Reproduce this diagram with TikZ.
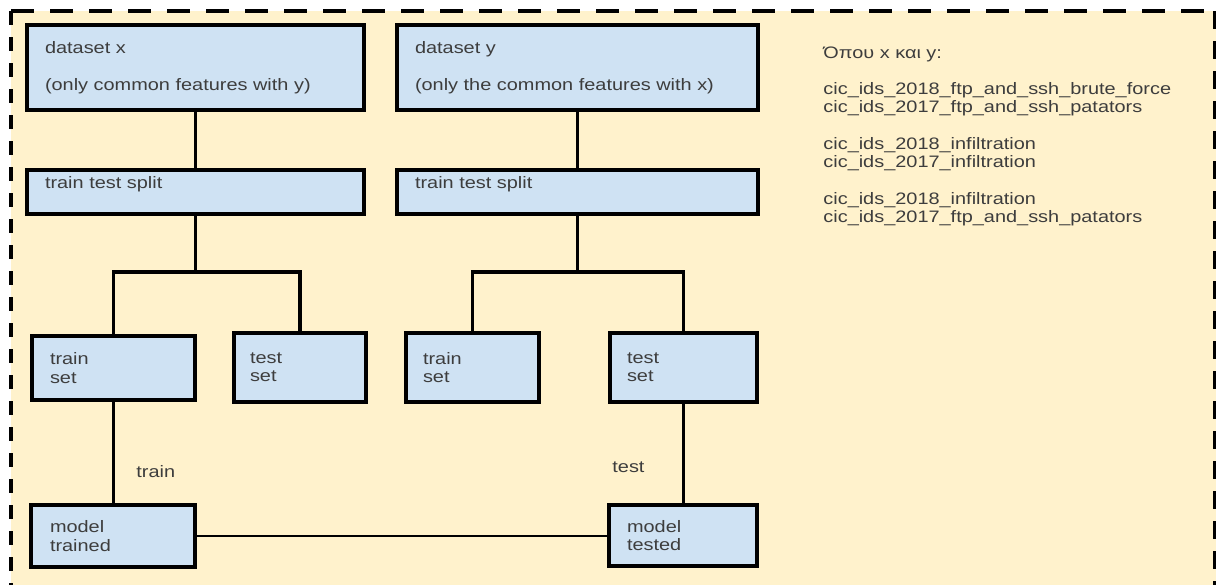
\documentclass[tikz,border=0pt]{standalone}
\usepackage{fontspec}
\setmainfont{Liberation Sans}[FakeStretch=1.2]
\definecolor{boxblue}{HTML}{CFE2F3}
\definecolor{paper}{HTML}{FFF2CC}
\definecolor{ink}{HTML}{3D3D3D}
\begin{document}
\begin{tikzpicture}[x=0.5pt, y=-0.5pt,
    every node/.style={font=\fontsize{8.3pt}{9.15pt}\selectfont, text=ink, inner sep=0pt},
    blk/.style={draw, fill=boxblue, line width=2pt, anchor=north west, align=left},
    wire/.style={line width=1.8pt}]
  \useasboundingbox (0,0) rectangle (1216,585);
  \fill[white] (0,0) rectangle (1216,585);
  \fill[paper] (11,11) rectangle (1216,585);
  % dashed frame (no bottom edge)
  \draw[line width=2pt, dash pattern=on 11.5pt off 8pt] (11,11) -- (1216,11);
  \draw[line width=2pt, dash pattern=on 7pt off 6pt] (11,11) -- (11,585);
  \draw[line width=2pt, dash pattern=on 9pt off 6pt] (1215,11) -- (1215,585);

  \node[blk, inner xsep=9pt, text width=150.5pt, minimum height=42.5pt] (dsx) at (25,23) {dataset x\\\mbox{}\\(only common features with y)};
  \node[blk, inner xsep=9pt, text width=162.5pt, minimum height=42.5pt] (dsy) at (395,23) {dataset y\\\mbox{}\\(only the common features with x)};

  \node[blk, inner xsep=9pt, text width=150.5pt, minimum height=22pt] (splitx) at (25,168) {train test split\\\mbox{}};
  \node[blk, inner xsep=9pt, text width=162.5pt, minimum height=22pt] (splity) at (395,168) {train test split\\\mbox{}};

  \node[blk, inner xsep=9pt, text width=63.5pt, minimum height=32pt] (trainx) at (30,334) {train\\set};
  \node[blk, inner xsep=8pt, text width=50pt, minimum height=34.5pt] (testx) at (232,331) {test\\set};
  \node[blk, inner xsep=8.5pt, text width=49.5pt, minimum height=34.5pt] (trainy) at (404,331) {train\\set};
  \node[blk, inner xsep=8.5pt, text width=56.5pt, minimum height=34.5pt] (testy) at (608,331) {test\\set};

  \node[blk, inner xsep=9.5pt, text width=63pt, minimum height=31pt] (trained) at (29,503) {model\\trained};
  \node[blk, inner xsep=9pt, text width=56pt, minimum height=30.5pt] (tested) at (607,503) {model\\tested};

  \node[anchor=base west] (trainlbl) at (136,477) {train};
  \node[anchor=base west] (testlbl) at (612,472) {test};

  \node[anchor=north west, align=left] (legend) at (823,46) {Όπου x και y:\\\mbox{}\\
    cic\_ids\_2018\_ftp\_and\_ssh\_brute\_force\\
    cic\_ids\_2017\_ftp\_and\_ssh\_patators\\\mbox{}\\
    cic\_ids\_2018\_infiltration\\
    cic\_ids\_2017\_infiltration\\\mbox{}\\
    cic\_ids\_2018\_infiltration\\
    cic\_ids\_2017\_ftp\_and\_ssh\_patators};

  \coordinate (forkx) at (splitx.south |- 0,272);
  \coordinate (forky) at (splity.south |- 0,272);

  \draw[wire] (dsx) -- (splitx);
  \draw[wire] (dsy) -- (splity);
  \draw[wire] (splitx.south) -- (forkx);
  \draw[wire] (splity.south) -- (forky);
  \draw[wire] (trainx.north) |- (forkx) -| (testx.north);
  \draw[wire] (trainy.north) |- (forky) -| (testy.north);

  \draw[wire] (trainx.south) -- (trainx.south |- trained.north);
  \draw[wire] (testy.south) -- (testy.south |- tested.north);
  \draw[line width=1.4pt] (trained.east) -- (trained.east -| tested.west);
\end{tikzpicture}
\end{document}
